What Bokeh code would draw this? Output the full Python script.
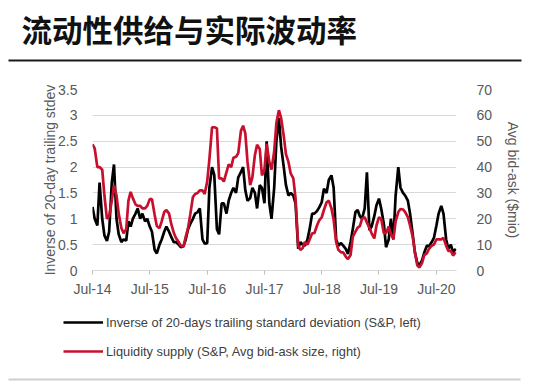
import math
import pandas as pd
from bokeh.plotting import figure
from bokeh.layouts import column
from bokeh.models import (Range1d, LinearAxis, FixedTicker, DatetimeTickFormatter,
                          CustomJSTickFormatter, Legend, LegendItem, ColumnDataSource)
from bokeh.core.properties import value
from bokeh.embed import file_html
from bokeh.resources import INLINE

# ---- data (semi-monthly readings, Jul 2014 - Nov 2020) ----
dates = pd.date_range("2014-07-01", "2020-11-01", freq="SMS")

inverse_vol = [
    1.23, 1.0, 0.87, 1.7, 1.0, 0.68, 0.57, 0.75, 1.7, 2.05,
    1.0, 0.7, 0.55, 0.6, 0.58, 0.95, 0.85, 1.0, 1.1, 1.2,
    1.0, 1.1, 0.95, 1.0, 0.85, 0.75, 0.4, 0.33, 0.5, 0.6,
    0.75, 0.85, 0.75, 0.65, 0.55, 0.55, 0.5, 0.45, 0.47, 0.6,
    0.8, 0.9, 1.0, 1.1, 1.13, 1.2, 0.6, 0.52, 0.53, 1.6,
    2.0, 1.85, 0.8, 0.7, 1.3, 1.3, 1.1, 1.35, 1.5, 1.6,
    1.5, 1.8, 1.9, 2.0, 1.55, 1.35, 1.4, 1.6, 1.5, 1.2,
    1.65, 1.6, 1.3, 2.5, 1.3, 1.0, 1.6, 2.5, 2.95, 2.4,
    2.0, 1.65, 1.45, 1.5, 1.45, 1.3, 0.42, 0.55, 0.5, 0.48,
    0.6, 0.8, 1.1, 1.1, 1.15, 1.22, 1.32, 1.58, 1.5, 1.75,
    1.84, 1.6, 0.6, 0.48, 0.53, 0.48, 0.42, 0.32, 0.55, 0.8,
    1.13, 1.17, 1.05, 1.0, 1.2, 1.9, 0.78, 0.85, 1.05, 1.26,
    1.39, 1.2, 0.9, 0.45, 0.6, 1.0, 0.6, 1.45, 2.0, 1.6,
    1.5, 1.45, 1.35, 1.1, 0.7, 0.35, 0.15, 0.1, 0.2, 0.35,
    0.48, 0.47, 0.55, 0.63, 0.87, 1.1, 1.25, 1.1, 0.6, 0.42,
    0.5, 0.35, 0.42,
]

liquidity_supply = [
    48.8, 47.2, 40, 40, 39, 29, 20, 21, 27, 33,
    29, 22, 16.4, 14.4, 16, 27, 30.4, 28, 25.6, 25,
    25, 24, 24, 25, 27.6, 27.6, 21.6, 17.2, 16.4, 19,
    22.6, 23.4, 22, 18, 14.6, 12.6, 11, 9.6, 9.2, 13,
    16.4, 21.6, 28.4, 29.6, 30, 31, 31, 29.6, 34.4, 43,
    55.4, 55.4, 55, 35.6, 35.6, 34.4, 38, 41, 40, 43.6,
    44, 45.4, 54, 56, 53, 42, 33, 36, 44.6, 48.6,
    47, 36.8, 39, 49, 42, 39, 46, 57, 62, 59,
    52, 45, 42, 37.6, 35.6, 28, 9.6, 8, 8.6, 11,
    10, 12, 14.4, 14.4, 17.4, 19.4, 20.6, 23.4, 26.4, 27,
    24, 19.6, 11, 8, 7, 7, 5.4, 4.4, 6, 13,
    15, 16.6, 17.2, 20, 20.6, 18.6, 16.4, 14.4, 12.4, 17.4,
    20.6, 20, 14.4, 14.4, 17, 14, 12.2, 19, 22.6, 23.8,
    23.6, 22.6, 20.6, 17.4, 13, 7, 2, 1.2, 3, 6,
    6.6, 8.4, 9.6, 10, 12, 12, 12, 12.6, 9.6, 7.6,
    7.6, 5.8, 7,
]

x_tick_dates = ["2014-07-01", "2015-07-01", "2016-07-01", "2017-07-01",
                "2018-07-01", "2019-07-01", "2020-07-01"]
left_ticks = [0, 0.5, 1, 1.5, 2, 2.5, 3, 3.5]
right_ticks = [0, 10, 20, 30, 40, 50, 60, 70]

title_text = "流动性供给与实际波动率"
left_label = "Inverse of 20-day trailing stdev"
right_label = "Avg bid-ask ($mio)"
legend_labels = ["Inverse of 20-days trailing standard deviation (S&P, left)",
                 "Liquidity supply (S&P, Avg bid-ask size, right)"]

assert len(dates) == len(inverse_vol) == len(liquidity_supply)

FONT = "Liberation Sans"
GREY = "#595959"
BLACK = "#000000"
RED = "#c8102e"
W = 546


def no_align(f):
    try:
        f.frame_align = False
    except Exception:
        pass


def blank(h):
    f = figure(width=W, height=h, x_range=Range1d(0, W), y_range=Range1d(h, 0),
               x_axis_location=None, y_axis_location=None,
               output_backend="svg", toolbar_location=None,
               min_border=0, min_border_left=0, min_border_right=0,
               min_border_top=0, min_border_bottom=0)
    f.grid.visible = False
    f.outline_line_color = None
    f.background_fill_color = "white"
    f.border_fill_color = "white"
    no_align(f)
    return f


# ---- header: title + dark rule ----
TOP_H = 65
top = blank(TOP_H)
top.text(x=[21], y=[28], text=[title_text], text_font=value("Noto Sans CJK SC"),
         text_font_style="bold", text_font_size="30.5px", text_color="#111111",
         text_baseline="middle", text_align="left")
top.quad(left=[8], right=[521], top=[59], bottom=[61], fill_color="#1a1a1a", line_color=None)

# ---- main chart ----
src = ColumnDataSource(dict(date=dates, vol=inverse_vol, liq=liquidity_supply))

MAIN_TOP = 24
FRAME_H = 181
MAIN_BOTTOM = 31
p = figure(width=W, height=MAIN_TOP + FRAME_H + MAIN_BOTTOM, x_axis_type="datetime",
           x_range=Range1d(pd.Timestamp("2014-07-01"), pd.Timestamp("2020-11-06")),
           y_range=Range1d(0, 3.5),
           output_backend="svg", toolbar_location=None,
           min_border_left=92, min_border_right=W - 92 - 364,
           min_border_top=MAIN_TOP, min_border_bottom=MAIN_BOTTOM)
no_align(p)
p.outline_line_color = None
p.background_fill_color = "white"
p.border_fill_color = "white"
p.extra_y_ranges = {"liq": Range1d(0, 70)}

p.xgrid.grid_line_color = None
p.ygrid.grid_line_color = "#d9d9d9"
p.ygrid.grid_line_width = 1
p.ygrid.ticker = FixedTicker(ticks=left_ticks)

xa = p.xaxis[0]
xa.ticker = FixedTicker(ticks=[pd.Timestamp(d).value / 1e6 for d in x_tick_dates])
xa.formatter = DatetimeTickFormatter(months="%b-%y", days="%b-%y", years="%b-%y")
xa.axis_line_color = "#d9d9d9"
xa.major_tick_line_color = "#bfbfbf"
xa.major_tick_out = 4
xa.major_tick_in = 0
xa.minor_tick_line_color = None
xa.major_label_text_font = FONT
xa.major_label_text_font_size = "14px"
xa.major_label_text_color = GREY
xa.major_label_standoff = 6

ya = p.yaxis[0]
ya.ticker = FixedTicker(ticks=left_ticks)
ya.formatter = CustomJSTickFormatter(code="return tick.toString()")
ya.axis_line_color = None
ya.major_tick_line_color = None
ya.minor_tick_line_color = None
ya.major_label_text_font = FONT
ya.major_label_text_font_size = "14px"
ya.major_label_text_color = GREY
ya.major_label_standoff = 9
ya.axis_label = left_label
ya.axis_label_text_font = FONT
ya.axis_label_text_font_size = "14px"
ya.axis_label_text_font_style = "normal"
ya.axis_label_text_color = GREY
ya.axis_label_standoff = -3

ra = LinearAxis(y_range_name="liq", ticker=FixedTicker(ticks=right_ticks))
ra.axis_line_color = None
ra.major_tick_line_color = None
ra.minor_tick_line_color = None
ra.major_label_text_font = FONT
ra.major_label_text_font_size = "14px"
ra.major_label_text_color = GREY
ra.major_label_standoff = 14
ra.axis_label = right_label
ra.axis_label_text_font = FONT
ra.axis_label_text_font_size = "14px"
ra.axis_label_text_font_style = "normal"
ra.axis_label_text_color = GREY
ra.axis_label_standoff = 10
try:
    ra.axis_label_orientation = "vertical"
except Exception:
    pass
p.add_layout(ra, "right")

p.line(x="date", y="vol", source=src, line_color=BLACK, line_width=2.7)
p.line(x="date", y="liq", source=src, y_range_name="liq", line_color=RED, line_width=2.7)

# ---- footer: legend + light rule ----
BOT_H = 88
bot = blank(BOT_H)
g1 = bot.line(x=[-50, -40], y=[-50, -50], line_color=BLACK, line_width=2.6)
g2 = bot.line(x=[-50, -40], y=[-50, -50], line_color=RED, line_width=2.6)
legend = Legend(items=[LegendItem(label=legend_labels[0], renderers=[g1]),
                       LegendItem(label=legend_labels[1], renderers=[g2])],
                location=(63, 28), orientation="vertical",
                glyph_width=40, glyph_height=20, spacing=9, padding=0, margin=0,
                label_standoff=3, label_text_font=FONT, label_text_font_size="12.8px",
                label_text_color="#404040", border_line_alpha=0, background_fill_alpha=0)
bot.add_layout(legend)
bot.quad(left=[8], right=[520], top=[77], bottom=[79], fill_color="#d0d0d0", line_color=None)

layout = column(top, p, bot, spacing=0)
open("out.html", "w").write(file_html(layout, INLINE))
